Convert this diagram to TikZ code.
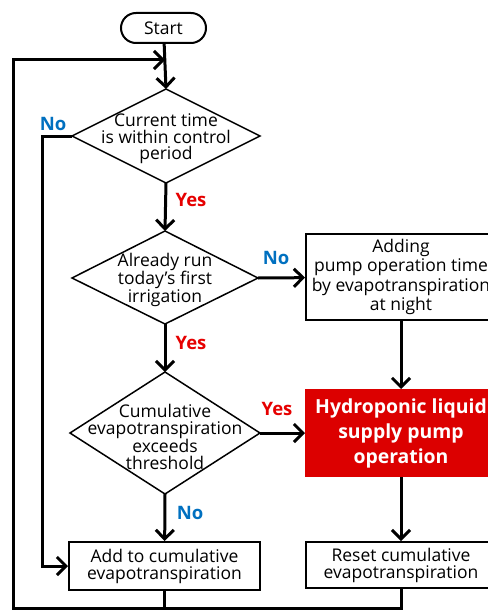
\documentclass[tikz,border=0pt]{standalone}
\usepackage{fontspec}
\setmainfont{Open Sans}
\usetikzlibrary{arrows.meta,shapes.geometric}
\definecolor{noblue}{RGB}{0,112,192}
\definecolor{yesred}{RGB}{230,0,0}
\definecolor{pumpred}{RGB}{220,0,0}
\begin{document}
\begin{tikzpicture}[x=1pt,y=-1pt,
  dtxt/.style={font=\fontsize{17.5}{16.5}\selectfont, align=center, inner sep=0pt},
  btxt/.style={font=\fontsize{17.5}{19.5}\selectfont, align=center},
  decline/.style={draw, line width=1.5pt, line join=miter},
  procbox/.style={draw, line width=2pt, rectangle, inner sep=0pt, btxt},
  flow/.style={line width=3pt, -{Straight Barb[length=9pt,width=18pt,line width=3pt]}},
  plain/.style={line width=3pt},
  nolab/.style={text=noblue, font=\fontsize{18.5}{20}\selectfont\bfseries},
  yeslab/.style={text=yesred, font=\fontsize{18.5}{20}\selectfont\bfseries}]
\useasboundingbox (0,0) rectangle (487,610);
% start
\node[procbox, rounded corners=15pt, minimum width=85pt, minimum height=30pt] (start) at (163.5,28) {Start};
% decision 1
\coordinate (d1n) at (166,89); \coordinate (d1s) at (166,183);
\coordinate (d1w) at (72,136); \coordinate (d1e) at (260,136);
\draw[decline] (d1n) -- (d1e) -- (d1s) -- (d1w) -- cycle;
\node[dtxt] (d1) at (166,139) {Current time\\is within control\\period};
% decision 2
\coordinate (d2n) at (165,231); \coordinate (d2s) at (165,324);
\coordinate (d2w) at (72,278); \coordinate (d2e) at (258,278);
\draw[decline] (d2n) -- (d2e) -- (d2s) -- (d2w) -- cycle;
\node[dtxt] (d2) at (165,280) {Already run\\today’s first\\irrigation};
% decision 3
\coordinate (d3n) at (165,372); \coordinate (d3s) at (165,494);
\coordinate (d3w) at (70,433); \coordinate (d3e) at (260,433);
\draw[decline] (d3n) -- (d3e) -- (d3s) -- (d3w) -- cycle;
\node[dtxt] (d3) at (165,437) {Cumulative\\evapotranspiration\\exceeds\\threshold};
% boxes
\node[procbox, minimum width=190pt, minimum height=86pt] (b1) at (401,277) {Adding\\pump operation time\\by evapotranspiration\\at night};
\node[procbox, draw=pumpred, fill=pumpred, text=white, font=\fontsize{19.4}{25}\selectfont\bfseries, minimum width=190pt, minimum height=86pt] (pump) at (401,433) {Hydroponic liquid\\supply pump\\operation};
\node[procbox, font=\fontsize{17.5}{17}\selectfont, minimum width=191pt, minimum height=48pt] (add) at (164.5,566) {Add to cumulative\\evapotranspiration};
\node[procbox, font=\fontsize{17.5}{17}\selectfont, minimum width=190pt, minimum height=46pt] (reset) at (401,565) {Reset cumulative\\evapotranspiration};
% helper points
\coordinate (bl) at (13,608);
\coordinate (tl) at (13,60);
\coordinate (join) at (165,60);
\coordinate (nocorner) at (42,136);
% labels
\node[nolab] (no1) at (53,124) {No};
\node[yeslab] (yes1) at (191,200) {Yes};
\node[nolab] (no2) at (276,258) {No};
\node[yeslab] (yes2) at (191,343) {Yes};
\node[yeslab] (yes3) at (277,409) {Yes};
\node[nolab] (no3) at (190,513) {No};
% connectors
\draw[flow] (start) -- (d1n);
\draw[flow] (d1s) -- (d2n);
\draw[flow] (d2s) -- (d3n);
\draw[flow] (d3s) -- (add);
\draw[flow] (d2e) -- (b1);
\draw[flow] (d3e) -- (pump);
\draw[flow] (b1) -- (pump);
\draw[flow] (pump) -- (reset);
\draw[flow] (d1w) -- (nocorner) |- (add.west);
\draw[plain] (reset.south) -- (reset.south |- bl) -- (add.south |- bl);
\draw[flow, line join=miter] (add.south) -- (add.south |- bl) -- (bl) -- (tl) -- (join);
\end{tikzpicture}
\end{document}
